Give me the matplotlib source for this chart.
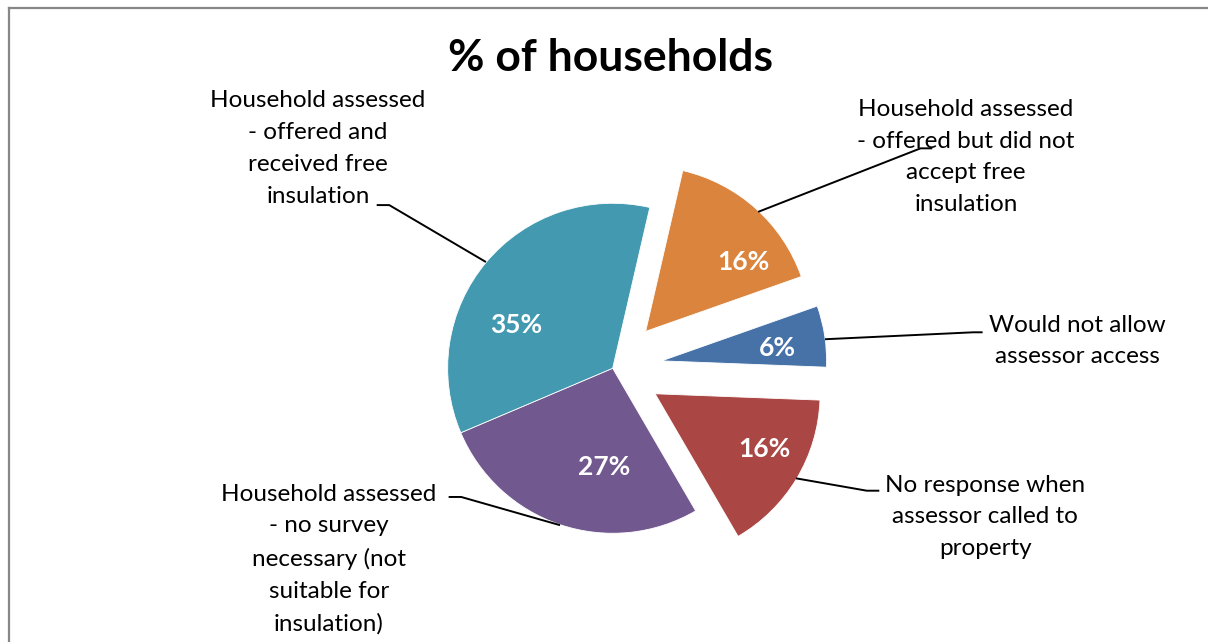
import matplotlib
matplotlib.use("Agg")
import matplotlib.pyplot as plt
from matplotlib.lines import Line2D

plt.rcParams["font.family"] = ["Lato", "DejaVu Sans"]

# Slices listed clockwise, starting from the top of the pie
categories = [
    "Household assessed\n- offered but did not\naccept free\ninsulation",
    "Would not allow\nassessor access",
    "No response when\nassessor called to\nproperty",
    "Household assessed\n- no survey\nnecessary (not\nsuitable for\ninsulation)",
    "Household assessed\n- offered and\nreceived free\ninsulation",
]
values = [16, 6, 16, 27, 35]
colors = ["#DA843E", "#4672A8", "#AA4644", "#71588F", "#4399B0"]
explode = [0.30, 0.30, 0.30, 0.0, 0.0]

# Layout (pie radius = 1 data unit)
pct_pos = [(0.792, 0.646), (0.998, 0.121), (0.919, -0.491), (-0.051, -0.600), (-0.582, 0.262)]
label_pos = [(2.141, 1.281), (2.817, 0.165), (2.259, -0.901), (-1.719, -1.156), (-1.786, 1.332)]
# leader lines: text end -> elbow -> slice
leaders = [
    [(1.937, 1.333), (1.866, 1.333), (0.882, 0.948)],
    [(2.242, 0.218), (2.185, 0.218), (1.287, 0.176)],
    [(1.616, -0.742), (1.540, -0.742), (1.111, -0.667)],
    [(-0.994, -0.780), (-0.918, -0.780), (-0.319, -0.951)],
    [(-1.430, 0.989), (-1.354, 0.989), (-0.768, 0.644)],
]

W, H = 1208, 642
fig = plt.figure(figsize=(W / 100, H / 100), dpi=100)
ax = fig.add_axes([0, 0, 1, 1])

wedges, _ = ax.pie(
    values,
    explode=explode,
    colors=colors,
    startangle=77,
    counterclock=False,
    radius=1.0,
    wedgeprops=dict(edgecolor="white", linewidth=0.6),
)

ax.set_aspect("auto")
ax.set_xlim(-3.713, 3.608)
ax.set_ylim(-1.659, 2.232)
ax.axis("off")

for v, (x, y) in zip(values, pct_pos):
    ax.text(x, y, f"{v}%", color="white", fontsize=19, fontweight="bold",
            ha="center", va="center")

for lab, (x, y) in zip(categories, label_pos):
    ax.text(x, y, lab, color="black", fontsize=17.5, ha="center", va="center",
            multialignment="center", linespacing=1.63)

for pts in leaders:
    xs, ys = zip(*pts)
    ax.plot(xs, ys, color="black", lw=1.4, solid_capstyle="butt")

ax.text(-0.011, 1.879, "% of households", fontsize=32, fontweight="bold",
        ha="center", va="center", color="black")

# chart-area border
border = "#878787"
fig.add_artist(Line2D([9 / W, 1], [1 - 8 / H, 1 - 8 / H], transform=fig.transFigure,
                      color=border, lw=1.6))
fig.add_artist(Line2D([9 / W, 9 / W], [0, 1 - 8 / H], transform=fig.transFigure,
                      color=border, lw=1.6))

fig.savefig("out.png", dpi=100, facecolor="white")
